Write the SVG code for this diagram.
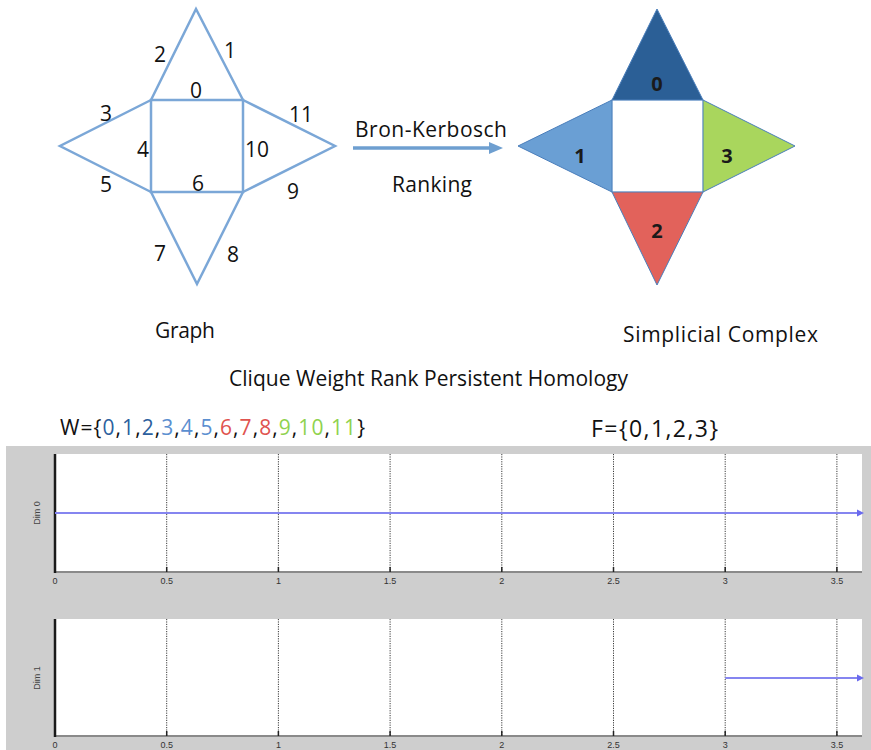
<svg xmlns="http://www.w3.org/2000/svg" width="871" height="750" viewBox="0 0 871 750">
<defs>
<style>
text{font-family:"Open Sans","Liberation Sans",sans-serif;fill:#111111}
.lbl{font-size:21px;text-anchor:middle}
.big{font-size:21px}
.cx{font-size:20px;font-weight:bold;text-anchor:middle;fill:#1a1a1a}
.edge{stroke:#7ba7d7;stroke-width:2.5;fill:none;stroke-linejoin:miter}
.tri{stroke:#4a7ebb;stroke-width:1}
.grid{stroke:#3a3a3a;stroke-width:1;stroke-dasharray:1.2 1.2}
.tick{font-family:"Liberation Sans",sans-serif;font-size:9px;fill:#333;text-anchor:middle}
.dim{font-family:"Liberation Sans",sans-serif;font-size:9px;fill:#444;text-anchor:middle}
.bar{stroke:#8585f0;stroke-width:2.2}
.bh{fill:#6a6aee}
.b1{fill:#2c5f9e}.b2{fill:#5b8fd0}.r{fill:#e0534f}.g{fill:#8fd24e}
</style>
</defs>
<rect width="871" height="750" fill="#ffffff"/>

<!-- Graph -->
<g id="graph">
<rect class="edge" x="151" y="100" width="92" height="92"/>
<polyline class="edge" points="151,100 196,9 243,100"/>
<polyline class="edge" points="151,100 60,146 151,192"/>
<polyline class="edge" points="243,100 335,146 243,192"/>
<polyline class="edge" points="151,192 197,284 243,192"/>
<text class="lbl" x="160" y="62">2</text>
<text class="lbl" x="230" y="58">1</text>
<text class="lbl" x="196" y="98">0</text>
<text class="lbl" x="106" y="121">3</text>
<text class="lbl" x="301" y="122">11</text>
<text class="lbl" x="143" y="157">4</text>
<text class="lbl" x="257" y="157">10</text>
<text class="lbl" x="106" y="192">5</text>
<text class="lbl" x="198" y="191">6</text>
<text class="lbl" x="293" y="199">9</text>
<text class="lbl" x="160" y="261">7</text>
<text class="lbl" x="233" y="262">8</text>
<text class="big" x="155" y="338" textLength="60">Graph</text>
</g>

<!-- Connector -->
<g id="connectors">
<line x1="353" y1="148" x2="492" y2="148" stroke="#6e9fd0" stroke-width="3.5"/>
<polygon points="489,142 503,148 489,154" fill="#6e9fd0"/>
<text class="big" x="355" y="136.5" textLength="152">Bron-Kerbosch</text>
<text class="big" x="392" y="192" textLength="80">Ranking</text>
</g>

<!-- Simplicial complex -->
<g id="complex">
<rect x="612" y="100" width="91" height="92" fill="#ffffff" stroke="#b8cde6" stroke-width="1"/>
<polygon class="tri" points="612,100 657,9 703,100" fill="#2b5f96"/>
<polygon class="tri" points="612,100 518,146 612,192" fill="#6a9fd4"/>
<polygon class="tri" points="703,100 795,146 703,192" fill="#a9d65d"/>
<polygon class="tri" points="612,192 657,285 703,192" fill="#e2625b"/>
<text class="cx" x="657" y="91">0</text>
<text class="cx" x="580" y="162.5">1</text>
<text class="cx" x="727" y="162.5">3</text>
<text class="cx" x="657" y="237.5">2</text>
<text class="big" x="623" y="342" textLength="195">Simplicial Complex</text>
</g>

<text class="big" x="229" y="386" textLength="399">Clique Weight Rank Persistent Homology</text>

<text class="big" x="60" y="435" textLength="305">W={<tspan class="b1">0</tspan>,<tspan class="b1">1</tspan>,<tspan class="b1">2</tspan>,<tspan class="b2">3</tspan>,<tspan class="b2">4</tspan>,<tspan class="b2">5</tspan>,<tspan class="r">6</tspan>,<tspan class="r">7</tspan>,<tspan class="r">8</tspan>,<tspan class="g">9</tspan>,<tspan class="g">10</tspan>,<tspan class="g">11</tspan>}</text>
<text x="591" y="437" font-size="23" textLength="127">F={0,1,2,3}</text>

<!-- Barcode plots -->
<g id="plots">
<rect x="6" y="446" width="865" height="304" fill="#cecece"/>
<rect x="55" y="454" width="807" height="118" fill="#ffffff"/>
<rect x="55" y="619" width="807" height="117" fill="#ffffff"/>
<g id="grid1">
<line class="grid" x1="166.7" y1="454" x2="166.7" y2="572"/>
<line class="grid" x1="278.4" y1="454" x2="278.4" y2="572"/>
<line class="grid" x1="390.1" y1="454" x2="390.1" y2="572"/>
<line class="grid" x1="501.8" y1="454" x2="501.8" y2="572"/>
<line class="grid" x1="613.5" y1="454" x2="613.5" y2="572"/>
<line class="grid" x1="725.2" y1="454" x2="725.2" y2="572"/>
<line class="grid" x1="836.9" y1="454" x2="836.9" y2="572"/>
</g>
<g id="grid2">
<line class="grid" x1="166.7" y1="619" x2="166.7" y2="736"/>
<line class="grid" x1="278.4" y1="619" x2="278.4" y2="736"/>
<line class="grid" x1="390.1" y1="619" x2="390.1" y2="736"/>
<line class="grid" x1="501.8" y1="619" x2="501.8" y2="736"/>
<line class="grid" x1="613.5" y1="619" x2="613.5" y2="736"/>
<line class="grid" x1="725.2" y1="619" x2="725.2" y2="736"/>
<line class="grid" x1="836.9" y1="619" x2="836.9" y2="736"/>
</g>
<line x1="55" y1="572" x2="862" y2="572" stroke="#8a8a8a" stroke-width="2"/>
<line x1="55" y1="736" x2="862" y2="736" stroke="#8a8a8a" stroke-width="2"/>
<line x1="55" y1="454" x2="55" y2="573" stroke="#1a1a1a" stroke-width="2.5"/>
<line x1="55" y1="619" x2="55" y2="737" stroke="#1a1a1a" stroke-width="2.5"/>
<g stroke="#222" stroke-width="1.5">
<line x1="166.7" y1="567" x2="166.7" y2="572"/><line x1="278.4" y1="567" x2="278.4" y2="572"/><line x1="390.1" y1="567" x2="390.1" y2="572"/><line x1="501.8" y1="567" x2="501.8" y2="572"/><line x1="613.5" y1="567" x2="613.5" y2="572"/><line x1="725.2" y1="567" x2="725.2" y2="572"/><line x1="836.9" y1="567" x2="836.9" y2="572"/>
<line x1="166.7" y1="731" x2="166.7" y2="736"/><line x1="278.4" y1="731" x2="278.4" y2="736"/><line x1="390.1" y1="731" x2="390.1" y2="736"/><line x1="501.8" y1="731" x2="501.8" y2="736"/><line x1="613.5" y1="731" x2="613.5" y2="736"/><line x1="725.2" y1="731" x2="725.2" y2="736"/><line x1="836.9" y1="731" x2="836.9" y2="736"/>
</g>
<g id="ticks1">
<text class="tick" x="55" y="584">0</text><text class="tick" x="166.7" y="584">0.5</text><text class="tick" x="278.4" y="584">1</text><text class="tick" x="390.1" y="584">1.5</text><text class="tick" x="501.8" y="584">2</text><text class="tick" x="613.5" y="584">2.5</text><text class="tick" x="725.2" y="584">3</text><text class="tick" x="836.9" y="584">3.5</text>
</g>
<g id="ticks2">
<text class="tick" x="55" y="748">0</text><text class="tick" x="166.7" y="748">0.5</text><text class="tick" x="278.4" y="748">1</text><text class="tick" x="390.1" y="748">1.5</text><text class="tick" x="501.8" y="748">2</text><text class="tick" x="613.5" y="748">2.5</text><text class="tick" x="725.2" y="748">3</text><text class="tick" x="836.9" y="748">3.5</text>
</g>
<text class="dim" transform="translate(40,513) rotate(-90)">Dim 0</text>
<text class="dim" transform="translate(40,678) rotate(-90)">Dim 1</text>
<line class="bar" x1="55" y1="513" x2="858" y2="513"/>
<polygon class="bh" points="857,509.5 864,513 857,516.5"/>
<line class="bar" x1="725.2" y1="678" x2="858" y2="678"/>
<polygon class="bh" points="857,674.5 864,678 857,681.5"/>
</g>
</svg>
